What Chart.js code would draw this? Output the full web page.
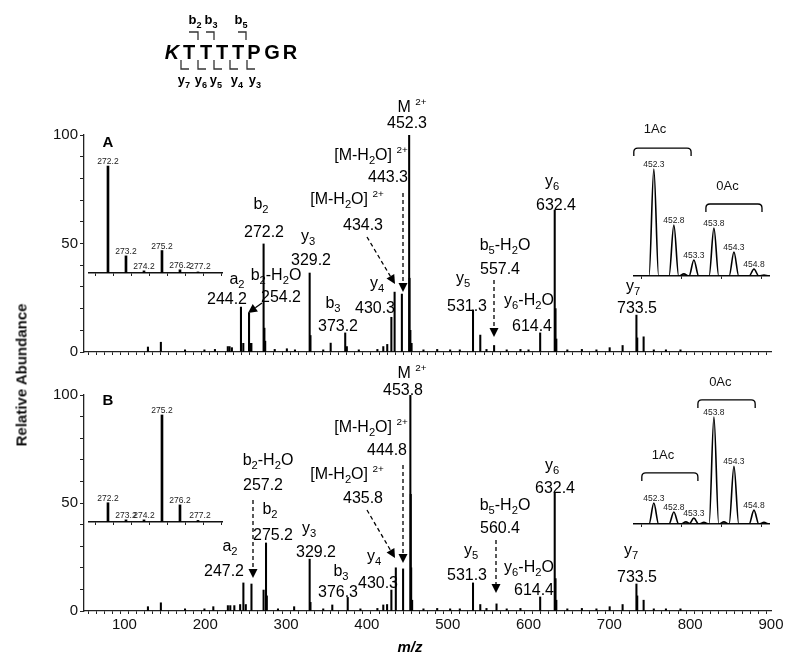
<!DOCTYPE html>
<html>
<head>
<meta charset="utf-8">
<script src="https://cdn.jsdelivr.net/npm/chart.js@4.4.1/dist/chart.umd.min.js"></script>
<style>
  body { margin: 0; background: #fff; }
  #wrap { position: relative; width: 800px; height: 667px; overflow: hidden; }
  canvas { position: absolute; }
  #ytitle { position: absolute; left: 21px; top: 375px; transform: translate(-50%, -50%) rotate(-90deg);
            font: bold 15px "Liberation Sans", Arial, sans-serif; white-space: nowrap; color: #111; }
</style>
</head>
<body>
<div id="wrap">
  <canvas id="specA" width="800" height="372" style="left:0;top:0"></canvas>
  <canvas id="specB" width="800" height="312" style="left:0;top:355px"></canvas>
  <canvas id="insA1" style="left:88px;top:150px"></canvas>
  <canvas id="insA2" style="left:633px;top:120px"></canvas>
  <canvas id="insB1" style="left:88px;top:400px"></canvas>
  <canvas id="insB2" style="left:633px;top:372px"></canvas>
  <div id="ytitle">Relative Abundance</div>
</div>
<script>
// peak lists (m/z, relative abundance)
const mzA  = [129.1, 145.1, 175, 199, 212, 227.9, 230.1, 233.0, 244.2, 247.1, 254.2, 256.0, 257.1, 272.2, 273.2, 274.2, 286, 301, 311,
              329.2, 330.2, 346, 355.2, 373.2, 375.2, 390, 413, 420.3, 425.2, 430.3, 434.3, 443.3, 452.3, 452.8, 453.8, 455.3,
              470, 487, 503, 515, 531.3, 540.3, 548, 557.4, 573, 590, 600, 614.4, 632.4, 633.4, 634.4, 648, 666, 684,
              700.4, 716.4, 733.5, 734.5, 742.4, 755, 770, 788];
const intA = [2.3, 4.5, 1, 1, 1.2, 2.5, 2.5, 2, 20.7, 4, 18, 4, 4, 49.8, 11, 5, 1.2, 1.5, 1,
              36.4, 7.6, 1, 4.1, 8.8, 2.5, 1, 1.2, 2.5, 3.5, 16, 27.6, 26.7, 100, 34, 10, 4,
              1, 1.2, 1, 1, 19.4, 7.8, 1.2, 3, 1, 1.2, 1, 8.8, 65.4, 20, 6, 1, 1.2, 1,
              2, 3, 17, 6.5, 7, 1, 1, 1];
const mzB  = [129.1, 145.1, 175, 199, 210, 228, 231, 236, 243.2, 247.2, 250.2, 257.2, 272.2, 275.2, 276.2, 290, 310,
              329.2, 330.2, 346, 357.2, 376.3, 392, 413, 420.3, 425, 430.3, 435.8, 444.8, 453.8, 454.3, 454.8, 456,
              470, 487, 503, 515, 531.3, 540.3, 548, 560.4, 573, 590, 614.4, 632.4, 633.4, 634.4, 648, 666, 684,
              700.4, 716.4, 733.5, 734.5, 742.4, 755, 770, 788];
const intB = [2, 3.8, 1, 1, 2, 2.5, 2.5, 2.5, 3, 13, 3, 12.5, 9.7, 31.5, 7, 1, 2,
              24, 4, 1, 2.8, 6.3, 1, 1.2, 2.8, 3, 9.7, 20, 19.5, 100, 54, 20, 5,
              1, 1.2, 1, 1, 13, 3, 1.2, 3.3, 1, 1.2, 6.5, 54.6, 15, 5, 1, 1.2, 1,
              2, 3, 12.5, 7, 5, 1, 1, 1];

// insets: b2 isotope cluster (sticks) and precursor cluster (profile)
const insetLeftMz  = [272.2, 273.2, 274.2, 275.2, 276.2, 277.2];
const insetLeftA   = [100, 16, 2, 21, 3, 1];
const insetLeftB   = [18, 2, 2, 100, 16, 1.5];
const insetRightMz = [452.3, 452.8, 453.3, 453.8, 454.3, 454.8];
const insetRightA  = [100, 47.7, 15, 44.9, 22.4, 6.5];
const insetRightB  = [19.6, 11.2, 5.6, 100, 54, 13];
const noiseRightMzA  = [453.05, 455.05];
const noiseRightIntA = [2, 1];
const noiseRightMzB  = [453.1, 453.55, 454.05, 455.05];
const noiseRightIntB = [2, 1.5, 2, 1.5];

const FONT = '"Liberation Sans", Arial, sans-serif';

// text annotations, page coords (centre x, baseline y)
const labelsA = [
  ['b_2', 261, 209], ['272.2', 264, 237], ['y_3', 308, 241], ['329.2', 311, 265],
  ['a_2', 237, 284], ['244.2', 227, 304], ['b_2-H_2O', 276, 280], ['254.2', 281, 302],
  ['b_3', 333, 308], ['373.2', 338, 331], ['M ^{2+}', 412, 112], ['452.3', 407, 128],
  ['[M-H_2O] ^{2+}', 371, 160], ['443.3', 388, 182], ['[M-H_2O] ^{2+}', 347, 204], ['434.3', 363, 230],
  ['y_4', 377, 288], ['430.3', 375, 313], ['y_5', 463, 283], ['531.3', 467, 311],
  ['b_5-H_2O', 505, 250], ['557.4', 500, 274], ['y_6-H_2O', 529, 305], ['614.4', 532, 331],
  ['y_6', 552, 186], ['632.4', 556, 210], ['y_7', 633, 291], ['733.5', 637, 313]
];
const labelsB = [
  ['b_2-H_2O', 268, 465], ['257.2', 263, 490], ['b_2', 270, 514], ['275.2', 273, 540],
  ['a_2', 230, 551], ['247.2', 224, 576], ['y_3', 309, 533], ['329.2', 316, 557],
  ['b_3', 341, 576], ['376.3', 338, 597], ['M ^{2+}', 412, 378], ['453.8', 403, 395],
  ['[M-H_2O] ^{2+}', 371, 432], ['444.8', 387, 455], ['[M-H_2O] ^{2+}', 347, 479], ['435.8', 363, 503],
  ['y_4', 374, 561], ['430.3', 378, 588], ['y_5', 471, 555], ['531.3', 467, 580],
  ['b_5-H_2O', 505, 510], ['560.4', 500, 533], ['y_6-H_2O', 529, 572], ['614.4', 534, 595],
  ['y_6', 552, 470], ['632.4', 555, 493], ['y_7', 631, 555], ['733.5', 637, 582]
];
// arrows: x1,y1,x2,y2,dashed
const arrowsA = [[262, 303, 248, 313, false], [403, 193, 403, 292, true], [367, 237, 395, 284, true], [494, 280, 494, 337, true]];
const arrowsB = [[253, 500, 253, 578, true], [403, 465, 403, 563, true], [367, 510, 395, 558, true], [496, 540, 496, 593, true]];

function richText(ctx, str, x, y, size, weight) {
  weight = weight || 'normal';
  const segs = [];
  let i = 0;
  while (i < str.length) {
    if (str[i] === '_') { segs.push({t: str[i + 1], k: 'sub'}); i += 2; }
    else if (str[i] === '^') { const j = str.indexOf('}', i); segs.push({t: str.slice(i + 2, j), k: 'sup'}); i = j + 1; }
    else { let j = i; while (j < str.length && str[j] !== '_' && str[j] !== '^') j++; segs.push({t: str.slice(i, j), k: 'n'}); i = j; }
  }
  const fontOf = s => `${weight} ${s.k === 'n' ? size : (s.k === 'sub' ? size * 0.7 : size * 0.62)}px ${FONT}`;
  let total = 0;
  segs.forEach(s => { ctx.font = fontOf(s); s.w = ctx.measureText(s.t).width; total += s.w; });
  let cx = x - total / 2;
  ctx.textAlign = 'left';
  ctx.textBaseline = 'alphabetic';
  segs.forEach(s => {
    ctx.font = fontOf(s);
    const dy = s.k === 'sub' ? size * 0.28 : (s.k === 'sup' ? -size * 0.45 : 0);
    ctx.fillText(s.t, cx, y + dy);
    cx += s.w;
  });
}

function arrow(ctx, x1, y1, x2, y2, dashed) {
  const a = Math.atan2(y2 - y1, x2 - x1), L = 9, W = 4.5;
  const bx = x2 - L * Math.cos(a), by = y2 - L * Math.sin(a);
  ctx.save();
  ctx.lineWidth = 1.3;
  ctx.strokeStyle = '#000';
  ctx.setLineDash(dashed ? [4, 3] : []);
  ctx.beginPath(); ctx.moveTo(x1, y1); ctx.lineTo(bx, by); ctx.stroke();
  ctx.setLineDash([]);
  ctx.beginPath();
  ctx.moveTo(x2, y2);
  ctx.lineTo(bx + W * Math.sin(a), by - W * Math.cos(a));
  ctx.lineTo(bx - W * Math.sin(a), by + W * Math.cos(a));
  ctx.closePath(); ctx.fillStyle = '#000'; ctx.fill();
  ctx.restore();
}

function drawSequence(ctx) {
  const letters = ['K', 'T', 'T', 'T', 'T', 'P', 'G', 'R'];
  const xs = [172, 189, 206, 222, 238, 254, 272, 290];
  ctx.fillStyle = '#000';
  ctx.textAlign = 'center'; ctx.textBaseline = 'alphabetic';
  letters.forEach((l, i) => {
    ctx.font = (i === 0 ? 'italic ' : '') + `bold 20px ${FONT}`;
    ctx.fillText(l, xs[i], 59);
  });
  ctx.strokeStyle = '#333'; ctx.lineWidth = 1.3;
  // b ions: ┐
  [[189, 198, 'b_2', 195], [206, 214, 'b_3', 211], [238, 246, 'b_5', 241]].forEach(b => {
    ctx.beginPath(); ctx.moveTo(b[0], 32); ctx.lineTo(b[1], 32); ctx.lineTo(b[1], 40); ctx.stroke();
    richText(ctx, b[2], b[3], 24, 13, 'bold');
  });
  // y ions: └
  [[181, 'y_7', 184], [198, 'y_6', 201], [214, 'y_5', 216], [230, 'y_4', 237], [247, 'y_3', 255]].forEach(y => {
    ctx.beginPath(); ctx.moveTo(y[0], 60); ctx.lineTo(y[0], 69); ctx.lineTo(y[0] + 8, 69); ctx.stroke();
    richText(ctx, y[1], y[2], 84, 13, 'bold');
  });
}

function makeMain(id, mz, inten, cfg) {
  const annot = {
    id: 'annot' + id,
    afterDraw(chart) {
      const ctx = chart.ctx;
      ctx.save();
      ctx.translate(0, -cfg.offsetY);
      ctx.fillStyle = '#000';
      richText(ctx, cfg.panel, 108, cfg.panelY, 15, 'bold');
      cfg.labels.forEach(l => richText(ctx, l[0], l[1], l[2], 16));
      cfg.arrows.forEach(a => arrow(ctx, a[0], a[1], a[2], a[3], a[4]));
      if (cfg.extra) cfg.extra(ctx);
      ctx.restore();
    }
  };
  return new Chart(document.getElementById(id), {
    type: 'bar',
    data: { datasets: [{ data: mz.map((m, i) => ({x: m, y: inten[i]})), backgroundColor: '#000',
                         barThickness: 1.4, grouped: false }] },
    options: {
      responsive: false, animation: false, devicePixelRatio: 1,
      layout: { padding: { top: cfg.padTop, right: 29, left: 0, bottom: 0 } },
      plugins: { legend: { display: false }, tooltip: { enabled: false } },
      scales: {
        x: { type: 'linear', min: 50, max: 900, offset: false,
             grid: { drawOnChartArea: false, tickLength: 3, color: '#222' },
             border: { color: '#222', width: 1.3 },
             ticks: { stepSize: 10, autoSkip: false, maxRotation: 0, padding: 2, color: '#111',
                      font: { size: 15, family: FONT },
                      callback: v => (cfg.xLabels && Math.round(v) % 100 === 0) ? Math.round(v) : '' },
             afterFit: s => { s.height = cfg.xHeight; } },
        y: { min: 0, max: 100,
             grid: { drawOnChartArea: false, tickLength: 4, color: '#222' },
             border: { color: '#222', width: 1.3 },
             ticks: { stepSize: 10, autoSkip: false, padding: 2, color: '#111', font: { size: 15, family: FONT },
                      callback: v => (Math.round(v) % 50 === 0) ? Math.round(v) : '' },
             afterFit: s => { s.width = 84; } }
      }
    },
    plugins: [annot]
  });
}

makeMain('specA', mzA, intA, { offsetY: 0, padTop: 135, xHeight: 20, xLabels: false, panel: 'A', panelY: 147,
  labels: labelsA, arrows: arrowsA, extra: drawSequence });
makeMain('specB', mzB, intB, { offsetY: 355, padTop: 40, xHeight: 56, xLabels: true, panel: 'B', panelY: 405,
  labels: labelsB, arrows: arrowsB,
  extra: ctx => { ctx.font = `italic bold 15px ${FONT}`; ctx.textAlign = 'center'; ctx.fillText('m/z', 410, 652); } });

function bracket(ctx, x1, x2, y) {
  const r = 4, drop = 8;
  ctx.beginPath();
  ctx.moveTo(x1, y + drop); ctx.lineTo(x1, y + r); ctx.quadraticCurveTo(x1, y, x1 + r, y);
  ctx.lineTo(x2 - r, y); ctx.quadraticCurveTo(x2, y, x2, y + r); ctx.lineTo(x2, y + drop);
  ctx.stroke();
}

function makeInset(id, o) {
  const cv = document.getElementById(id);
  cv.width = o.width; cv.height = o.height + 5;
  let ds;
  if (o.profile) {
    const pk = o.mz.map((m, i) => [m, o.inten[i]]).concat(o.noiseMz.map((m, i) => [m, o.noiseInt[i]]))
      .sort((a, b) => a[0] - b[0]);
    const pts = [{x: o.xmin, y: 0}];
    pk.forEach(p => { pts.push({x: p[0] - 0.12, y: 0}, {x: p[0], y: p[1]}, {x: p[0] + 0.12, y: 0}); });
    pts.push({x: o.xmax, y: 0});
    ds = { type: 'line', data: pts, borderColor: '#000', borderWidth: 1.6, pointRadius: 0,
           cubicInterpolationMode: 'monotone' };
  } else {
    ds = { type: 'bar', data: o.mz.map((m, i) => ({x: m, y: o.inten[i]})), backgroundColor: '#000',
           barThickness: 2, grouped: false };
  }
  const deco = {
    id: 'deco' + id,
    afterDraw(chart) {
      const ctx = chart.ctx, xs = chart.scales.x, ys = chart.scales.y;
      ctx.save();
      ctx.fillStyle = '#222';
      o.mz.forEach((m, i) => {
        ctx.font = `8.5px ${FONT}`; ctx.textAlign = 'center'; ctx.textBaseline = 'alphabetic';
        const px = xs.getPixelForValue(m), py = ys.getPixelForValue(o.inten[i]);
        ctx.fillText(m.toFixed(1), px + (o.profile ? 0 : (i === 5 ? 2 : 0)), Math.min(py - 2, ys.getPixelForValue(0) - 4));
      });
      ctx.strokeStyle = '#000'; ctx.lineWidth = 1.3;
      (o.brackets || []).forEach(b => {
        bracket(ctx, xs.getPixelForValue(b[0]), xs.getPixelForValue(b[1]), ys.getPixelForValue(b[2]));
        ctx.font = `13px ${FONT}`; ctx.textAlign = 'center'; ctx.textBaseline = 'middle'; ctx.fillStyle = '#111';
        ctx.fillText(b[3], xs.getPixelForValue(b[4]), ys.getPixelForValue(b[5]));
      });
      ctx.restore();
    }
  };
  new Chart(cv, {
    data: { datasets: [ds] },
    options: {
      responsive: false, animation: false, devicePixelRatio: 1,
      layout: { padding: 0 },
      plugins: { legend: { display: false }, tooltip: { enabled: false } },
      scales: {
        x: { type: 'linear', min: o.xmin, max: o.xmax, offset: false,
             grid: { drawOnChartArea: false, tickLength: 3, color: '#222' },
             border: { color: '#111', width: 1.4 },
             ticks: { stepSize: 1, includeBounds: false, autoSkip: false, callback: () => '' },
             afterFit: s => { s.height = 5; } },
        y: { display: false, min: 0, max: o.ymax }
      }
    },
    plugins: [deco]
  });
}

makeInset('insA1', { width: 135, height: 123, xmin: 271.09, xmax: 278.59, ymax: 115,
  mz: insetLeftMz, inten: insetLeftA });
makeInset('insB1', { width: 135, height: 122, xmin: 271.09, xmax: 278.59, ymax: 114,
  mz: insetLeftMz, inten: insetLeftB });
makeInset('insA2', { width: 137, height: 156, xmin: 451.78, xmax: 455.2, ymax: 145.8, profile: true,
  mz: insetRightMz, inten: insetRightA, noiseMz: noiseRightMzA, noiseInt: noiseRightIntA,
  brackets: [[451.8, 453.23, 119.6, '1Ac', 452.33, 137], [453.6, 455.0, 67.3, '0Ac', 454.14, 84]] });
makeInset('insB2', { width: 137, height: 152, xmin: 451.78, xmax: 455.2, ymax: 142, profile: true,
  mz: insetRightMz, inten: insetRightB, noiseMz: noiseRightMzB, noiseInt: noiseRightIntB,
  brackets: [[453.4, 454.83, 115.9, '0Ac', 453.96, 132.7], [452.0, 453.4, 47.7, '1Ac', 452.53, 64.5]] });
</script>
</body>
</html>
